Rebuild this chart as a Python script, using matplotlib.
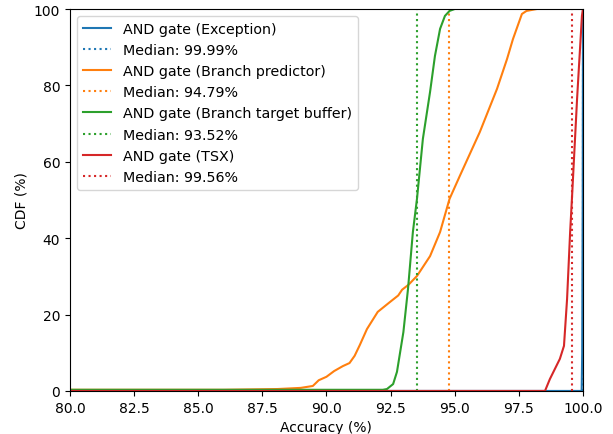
import matplotlib
matplotlib.use("Agg")
import matplotlib.pyplot as plt

# CDF curves: accuracy (%) vs cumulative share (%)
exc_acc = [70.0, 99.95, 99.97, 99.99, 100.0, 100.0]
exc_cdf = [0.0, 0.0, 10.0, 50.0, 95.0, 100.0]

bp_acc = [70.0, 86.0, 88.1, 89.0, 89.47, 89.7, 90.0, 90.3, 90.64, 90.9, 91.1, 91.3,
          91.58, 92.0, 92.48, 92.8, 92.95, 93.2, 93.53, 94.04, 94.43, 94.8, 95.2,
          95.98, 96.65, 97.04, 97.27, 97.62, 97.8, 98.2]
bp_cdf = [0.3, 0.3, 0.5, 0.8, 1.3, 2.8, 3.7, 5.2, 6.5, 7.3, 9.2, 12.0,
          16.2, 20.7, 23.3, 25.0, 26.5, 27.8, 30.1, 35.3, 41.6, 50.3, 56.3,
          67.8, 79.1, 86.9, 92.1, 98.7, 99.5, 100.0]

btb_acc = [70.0, 92.2, 92.36, 92.6, 92.75, 93.0, 93.18, 93.37, 93.53, 93.76, 94.04,
           94.23, 94.43, 94.62, 94.8, 95.0]
btb_cdf = [0.3, 0.3, 0.5, 1.8, 5.0, 15.4, 26.7, 41.6, 50.3, 66.0, 78.3,
           87.7, 94.8, 98.2, 99.5, 100.0]

tsx_acc = [70.0, 98.52, 98.71, 99.1, 99.26, 99.38, 99.5, 99.57, 99.77, 99.96, 100.0]
tsx_cdf = [0.0, 0.0, 3.1, 8.4, 11.8, 24.0, 41.6, 50.3, 76.4, 98.2, 100.0]

names = ["Exception", "Branch predictor", "Branch target buffer", "TSX"]
medians = [99.99, 94.79, 93.52, 99.56]
colors = ["tab:blue", "tab:orange", "tab:green", "tab:red"]

series = [(exc_acc, exc_cdf), (bp_acc, bp_cdf), (btb_acc, btb_cdf), (tsx_acc, tsx_cdf)]

fig, ax = plt.subplots(figsize=(6.13, 4.35), dpi=100)
fig.subplots_adjust(left=0.114, right=0.951, bottom=0.099, top=0.977)

for (acc, cdf), name, med, c in zip(series, names, medians, colors):
    ax.plot(acc, cdf, color=c, label=f"AND gate ({name})")
    ax.axvline(med, color=c, linestyle=":", label=f"Median: {med:.2f}%")

ax.set_xlim(80, 100)
ax.set_ylim(0, 100)
ax.set_xlabel("Accuracy (%)")
ax.set_ylabel("CDF (%)")
ax.legend(loc="upper left", fontsize=10.3)

fig.savefig("out.png", dpi=100)
